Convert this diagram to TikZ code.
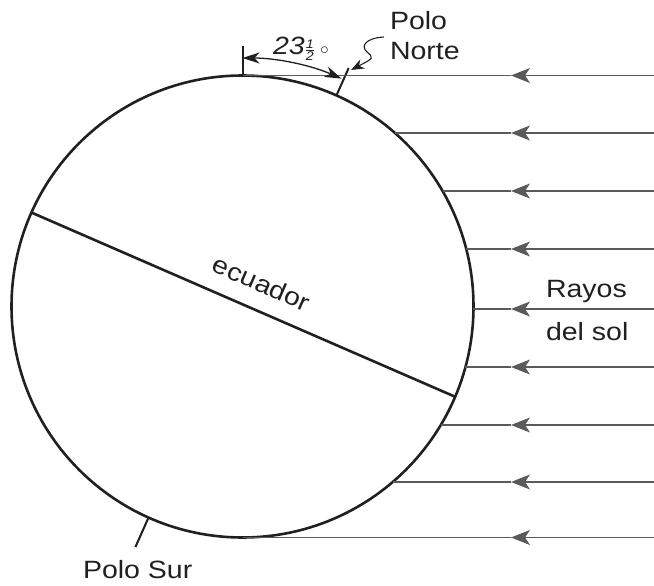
\documentclass[tikz,border=0pt]{standalone}
\usepackage{fontspec}
\usepackage{amsmath}
\setmainfont{Liberation Sans}[FakeStretch=1.14]
\usetikzlibrary{arrows.meta,calc}
\definecolor{ink}{HTML}{231F20}
\definecolor{raygray}{HTML}{5A5A5C}
\begin{document}
\begin{tikzpicture}[x=1pt,y=-1pt,
  lbl/.style={font=\fontsize{25}{25}\selectfont, text=ink, inner sep=0pt, outer sep=0pt},
  bold line/.style={draw=ink, line width=2.6pt},
  tick line/.style={draw=ink, line width=2pt},
  ray/.style={draw=raygray, line width=1.4pt},
  raytip/.style={-{Stealth[length=19pt,width=15pt,inset=5pt]}},
  arctip/.style={{Stealth[length=17pt,width=11pt,inset=5pt]}-{Stealth[length=17pt,width=11pt,inset=5pt]}},
]
\useasboundingbox (0,0) rectangle (654,586);
% Earth
\node[circle, draw=ink, line width=2.6pt, minimum size=462pt, inner sep=0pt, outer sep=0pt] (earth) at (242.5,306.5) {};
% key points
\coordinate (eqL) at (earth.156.5);
\coordinate (eqR) at (earth.-23.5);
\coordinate (np) at (earth.66.5);
\coordinate (npo) at ($(earth.center)!1.13!(np)$);
\coordinate (sp) at (earth.246.5);
\coordinate (spo) at ($(earth.center)!1.14!(sp)$);
\coordinate (ntop) at (earth.north);
\coordinate (ntick) at (242.5,46);
\coordinate (arcA) at (242.5,58);
% equator and poles
\draw[bold line] (eqL) -- (eqR);
\draw[tick line] (np) -- (npo);
\draw[tick line] (sp) -- (spo);
\draw[tick line] (ntop) -- (ntick);
% sun rays
\foreach \yy [count=\i] in {75.5,133,191,249,309,367,425,482,537.5}{
  \pgfmathsetmacro{\xx}{242.5+231*sqrt(max(0,1-((306.5-\yy)/231)^2))}
  \coordinate (rs\i) at (\xx,\yy);
  \coordinate (re\i) at (654,\yy);
  \coordinate (rt\i) at (511,\yy);
  \draw[ray, raytip] (re\i) -- (rt\i);
  \draw[ray] (rt\i) -- (rs\i);
}
% angle arc
\draw[draw=ink, line width=1.3pt, arctip] (arcA) arc[start angle=-90, end angle=-66.5, radius=248.5];
\node[lbl, anchor=base west] (deg) at (273,55) {\itshape 23$\genfrac{}{}{0.5pt}{2}{\textit{1}}{\textit{2}}$\hspace{5pt}$\scriptstyle\circ$};
% labels
\node[lbl, anchor=base west] (polo) at (390,30) {Polo};
\node[lbl, anchor=base west] (norte) at (390,60) {Norte};
\node[lbl, anchor=base west] (rayos) at (546,297) {Rayos};
\node[lbl, anchor=base west] (delsol) at (546,340) {del sol};
\node[lbl, anchor=base west] (sur) at (83,578) {Polo Sur};
\node[lbl, rotate=-23.5] (ecu) at ($(eqL)!0.518!(eqR)!27pt!90:(eqR)$) {ecuador};
% squiggle pointer
\coordinate (sqA) at (384,37);
\coordinate (sqB) at (351,70);
\draw[draw=ink, line width=1.1pt, -{Stealth[length=13pt,width=10pt,inset=4pt]}] (sqA) .. controls (366,38) and (360,46) .. (367,52) .. controls (374,58) .. (sqB);
\end{tikzpicture}
\end{document}
